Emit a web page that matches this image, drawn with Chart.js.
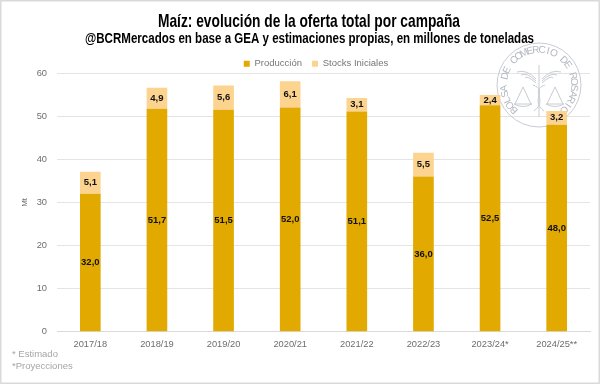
<!DOCTYPE html>
<html lang="es">
<head>
<meta charset="utf-8">
<title>Maíz: evolución de la oferta total por campaña</title>
<script src="https://cdn.jsdelivr.net/npm/chart.js@4"></script>
<style>
    html, body { margin: 0; padding: 0; background: #fff; }
    #wrap { position: relative; width: 600px; height: 384px; overflow: hidden; }
    #wrap canvas { position: absolute; left: 0; top: 0; }
</style>
</head>
<body>
<div id="wrap"><canvas id="chart" width="600" height="384"></canvas></div>
<script>
// datos
const campanias = ['2017/18', '2018/19', '2019/20', '2020/21', '2021/22', '2022/23', '2023/24*', '2024/25**'];
const produccion = [32.0, 51.7, 51.5, 52.0, 51.1, 36.0, 52.5, 48.0];
const stocksIniciales = [5.1, 4.9, 5.6, 6.1, 3.1, 5.5, 2.4, 3.2];
const ticksY = [0, 10, 20, 30, 40, 50, 60];
const notas = ['* Estimado', '*Proyecciones'];

const titulo = 'Maíz: evolución de la oferta total por campaña';
const subtitulo = '@BCRMercados en base a GEA y estimaciones propias, en millones de toneladas';
const sello = 'BOLSA DE COMERCIO DE ROSARIO';

// etiquetas de valor dentro de cada barra
const etiquetasPlugin = {
    id: 'etiquetas',
    afterDatasetsDraw(chart) {
        const ctx = chart.ctx;
        ctx.save();
        ctx.font = 'bold 9.5px "Liberation Sans"';
        ctx.fillStyle = '#111';
        ctx.textAlign = 'center';
        ctx.textBaseline = 'middle';
        chart.data.datasets.forEach((ds, i) => {
            chart.getDatasetMeta(i).data.forEach((bar, j) => {
                const p = bar.getProps(['x', 'y', 'base'], true);
                ctx.fillText(ds.data[j].toFixed(1).replace('.', ','), p.x, (p.y + p.base) / 2);
            });
        });
        ctx.restore();
    }
};

// ajusta la leyenda: alto fijo y corrida hacia la derecha
const leyendaPlugin = {
    id: 'ajusteLeyenda',
    beforeLayout(chart) {
        const leyenda = chart.legend;
        if (leyenda._ajustada) return;
        const fit = leyenda.fit;
        leyenda.fit = function () {
            fit.call(this);
            this.height = 24;
        };
        leyenda._ajustada = true;
    },
    afterLayout(chart) {
        chart.legend.left += 11;
        chart.legend.right += 11;
    }
};

// marco, títulos, notas y sello de la Bolsa
const decoracionPlugin = {
    id: 'decoracion',
    beforeDraw(chart) {
        const ctx = chart.ctx;
        ctx.save();
        ctx.fillStyle = '#fff';
        ctx.fillRect(0, 0, 600, 384);
        ctx.strokeStyle = '#d9d9d9';
        ctx.lineWidth = 1.5;
        ctx.strokeRect(0.75, 0.75, 598.5, 382.5);
        ctx.restore();
    },
    beforeDatasetsDraw(chart) {
        // sello, queda detrás de las barras
        const ctx = chart.ctx;
        const cx = 539, cy = 85, r = 41;
        ctx.save();
        ctx.strokeStyle = '#c9ccd4';
        ctx.fillStyle = '#b4b8c2';
        ctx.lineWidth = 1;
        ctx.beginPath(); ctx.arc(cx, cy, r + 1, 0, Math.PI * 2); ctx.stroke();
        ctx.font = '10px "Liberation Sans"';
        ctx.textAlign = 'center';
        ctx.textBaseline = 'middle';
        const inicio = -Math.PI * 1.25, paso = (Math.PI * 1.5) / (sello.length - 1);
        sello.split('').forEach((letra, i) => {
            const a = inicio + paso * i;
            ctx.save();
            ctx.translate(cx + Math.cos(a) * (r - 6), cy + Math.sin(a) * (r - 6));
            ctx.rotate(a + Math.PI / 2);
            ctx.fillText(letra, 0, 0);
            ctx.restore();
        });
        // alas del caduceo
        ctx.beginPath();
        [-1, 1].forEach(lado => {
            for (let k = 0; k < 3; k++) {
                ctx.moveTo(cx + lado * 3, cy - 6 + k * 2);
                ctx.quadraticCurveTo(cx + lado * 12, cy - 16 + k * 3, cx + lado * (22 - k * 4), cy - 13 + k * 3);
            }
        });
        // vara y serpientes
        ctx.moveTo(cx, cy - 20); ctx.lineTo(cx, cy + 32);
        ctx.moveTo(cx - 6, cy); ctx.bezierCurveTo(cx + 10, cy + 6, cx - 10, cy + 14, cx + 5, cy + 26);
        ctx.moveTo(cx + 6, cy); ctx.bezierCurveTo(cx - 10, cy + 6, cx + 10, cy + 14, cx - 5, cy + 26);
        // platillos de la balanza
        [-1, 1].forEach(lado => {
            const px = cx + lado * 16;
            ctx.moveTo(px, cy + 2); ctx.lineTo(px - 8, cy + 19);
            ctx.moveTo(px, cy + 2); ctx.lineTo(px + 8, cy + 19);
            ctx.moveTo(px - 9, cy + 19); ctx.quadraticCurveTo(px, cy + 24, px + 9, cy + 19); ctx.closePath();
        });
        ctx.stroke();
        ctx.restore();
    },
    afterDraw(chart) {
        const ctx = chart.ctx;
        ctx.save();
        ctx.textAlign = 'center';
        ctx.textBaseline = 'middle';
        ctx.fillStyle = '#000';
        // fillText con ancho máximo para angostar la letra
        ctx.font = 'bold 18.5px "Liberation Sans"';
        ctx.fillText(titulo, 309, 22, 302);
        ctx.font = 'bold 14.5px "Liberation Sans"';
        ctx.fillText(subtitulo, 309.5, 39, 449);

        ctx.textAlign = 'left';
        ctx.fillStyle = '#a6a6a6';
        ctx.font = '9.5px "Liberation Sans"';
        ctx.fillText(notas[0], 12, 354);
        ctx.fillText(notas[1], 12, 366);
        ctx.restore();
    }
};

new Chart(document.getElementById('chart'), {
    type: 'bar',
    data: {
        labels: campanias,
        datasets: [
            { label: 'Producción', data: produccion, backgroundColor: '#e2aa00', stack: 'a' },
            { label: 'Stocks Iniciales', data: stocksIniciales, backgroundColor: '#fdd48f', stack: 'a' }
        ]
    },
    options: {
        responsive: false,
        animation: false,
        devicePixelRatio: 1,
        layout: { padding: { top: 49, right: 10, bottom: 27, left: 20 } },
        datasets: { bar: { categoryPercentage: 1, barPercentage: 0.31 } },
        plugins: {
            title: { display: false },
            tooltip: { enabled: false },
            legend: {
                position: 'top',
                align: 'center',
                labels: {
                    boxWidth: 6,
                    boxHeight: 6,
                    padding: 10,
                    color: '#767676',
                    font: { family: '"Liberation Sans"', size: 9.5 }
                }
            }
        },
        scales: {
            x: {
                stacked: true,
                grid: { display: false, drawTicks: false },
                border: { color: '#d9d9d9' },
                ticks: { color: '#6e6e6e', padding: 7, maxRotation: 0, font: { family: '"Liberation Sans"', size: 9.3 } }
            },
            y: {
                stacked: true,
                min: 0,
                max: 60,
                afterBuildTicks(axis) { axis.ticks = ticksY.map(v => ({ value: v })); },
                afterFit(axis) { axis.width = 37; },
                grid: { color: '#e4e4e4', drawTicks: false },
                border: { display: false },
                title: { display: true, text: 'Mt', color: '#6e6e6e', padding: { top: 0, bottom: 0 }, font: { family: '"Liberation Sans"', size: 8 } },
                ticks: { color: '#6e6e6e', padding: 10, font: { family: '"Liberation Sans"', size: 9.3 } }
            }
        }
    },
    plugins: [decoracionPlugin, leyendaPlugin, etiquetasPlugin]
});
</script>
</body>
</html>
